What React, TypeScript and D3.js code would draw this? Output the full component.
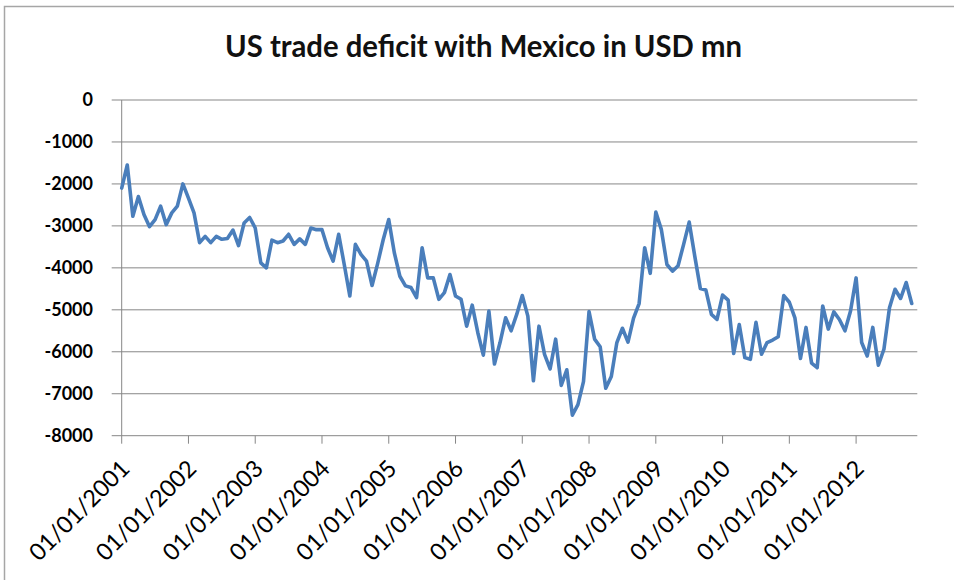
import React from "react";
import * as d3 from "d3";

// Monthly US trade balance with Mexico, USD mn (Jan 2001 – Nov 2012)
const v2001 = [-2100, -1550, -2770, -2300, -2730, -3020, -2850, -2530, -2970, -2690, -2530, -2000];
const v2002 = [-2340, -2690, -3400, -3250, -3400, -3250, -3320, -3300, -3100, -3470, -2930, -2800];
const v2003 = [-3050, -3880, -4000, -3340, -3400, -3360, -3200, -3440, -3310, -3440, -3050, -3090];
const v2004 = [-3090, -3520, -3840, -3200, -3920, -4670, -3440, -3680, -3840, -4420, -3900, -3330];
const v2005 = [-2850, -3640, -4200, -4430, -4470, -4710, -3520, -4240, -4240, -4750, -4590, -4160];
const v2006 = [-4670, -4750, -5390, -4890, -5540, -6080, -5030, -6290, -5780, -5190, -5500, -5110];
const v2007 = [-4660, -5150, -6690, -5390, -6060, -6410, -5700, -6800, -6430, -7510, -7260, -6710];
const v2008 = [-5040, -5700, -5880, -6870, -6590, -5780, -5440, -5770, -5200, -4850, -3520, -4130];
const v2009 = [-2670, -3090, -3920, -4080, -3950, -3440, -2910, -3720, -4490, -4530, -5110, -5230];
const v2010 = [-4650, -4770, -6040, -5350, -6140, -6180, -5300, -6060, -5780, -5720, -5640, -4660];
const v2011 = [-4820, -5190, -6160, -5420, -6270, -6380, -4910, -5460, -5050, -5230, -5500, -5030];
const v2012 = [-4240, -5780, -6100, -5420, -6320, -5940, -4950, -4510, -4730, -4350, -4850];

const values = [
  ...v2001, ...v2002, ...v2003, ...v2004, ...v2005, ...v2006,
  ...v2007, ...v2008, ...v2009, ...v2010, ...v2011, ...v2012,
];

const MONTHS_ON_AXIS = 144;
const yTicks = [0, -1000, -2000, -3000, -4000, -5000, -6000, -7000, -8000];
const xTickLabels = [
  "01/01/2001", "01/01/2002", "01/01/2003", "01/01/2004", "01/01/2005", "01/01/2006",
  "01/01/2007", "01/01/2008", "01/01/2009", "01/01/2010", "01/01/2011", "01/01/2012",
];
const TITLE = "US trade deficit with Mexico in USD mn";

export default function App() {
  const W = 954;
  const H = 580;
  const left = 121.7;
  const right = 917.3;
  const top = 100;
  const bottom = 435.7;

  const x = d3.scaleLinear().domain([0, MONTHS_ON_AXIS - 1]).range([left, right]);
  const y = d3.scaleLinear().domain([-8000, 0]).range([bottom, top]);

  const line = d3
    .line<number>()
    .x((_, i) => x(i))
    .y((d) => y(d));

  const gridColor = "#878787";
  const font = "Lato, 'Open Sans', sans-serif";

  return (
    <svg
      width={W}
      height={H}
      viewBox={`0 0 ${W} ${H}`}
      style={{ position: "absolute", left: 0, top: 0, display: "block", background: "#fff" }}
    >
      <rect x={0} y={0} width={W} height={H} fill="#fff" />
      <rect x={4.5} y={6.5} width={W + 20} height={H + 20} fill="none" stroke="#a6a6a6" strokeWidth={1.5} />

      <text
        x={483.5}
        y={57}
        textAnchor="middle"
        fontFamily={font}
        fontWeight={700}
        fontSize={30}
        fill="#111"
        textLength={517}
        lengthAdjust="spacingAndGlyphs"
      >
        {TITLE}
      </text>

      {/* gridlines and y ticks */}
      {yTicks.map((t) => (
        <g key={t}>
          <line x1={left - 10} x2={right} y1={y(t)} y2={y(t)} stroke={gridColor} strokeWidth={1} />
          <text
            x={93}
            y={y(t)}
            dy="0.36em"
            textAnchor="end"
            fontFamily={font}
            fontWeight={700}
            fontSize={18}
            fill="#000"
          >
            {t}
          </text>
        </g>
      ))}

      {/* y axis */}
      <line x1={left} x2={left} y1={top} y2={bottom} stroke={gridColor} strokeWidth={1} />

      {/* x ticks and labels */}
      {xTickLabels.map((lab, i) => {
        const tx = x(i * 12);
        return (
          <g key={lab}>
            <line x1={tx} x2={tx} y1={bottom} y2={bottom + 8} stroke={gridColor} strokeWidth={1} />
            <text
              transform={`translate(${tx + 9.4},${470}) rotate(-45)`}
              textAnchor="end"
              fontFamily={font}
              fontSize={23.5}
              fill="#000"
            >
              {lab}
            </text>
          </g>
        );
      })}

      <path
        d={line(values) || ""}
        fill="none"
        stroke="#4A7EBB"
        strokeWidth={3.6}
        strokeLinejoin="round"
        strokeLinecap="round"
      />
    </svg>
  );
}
